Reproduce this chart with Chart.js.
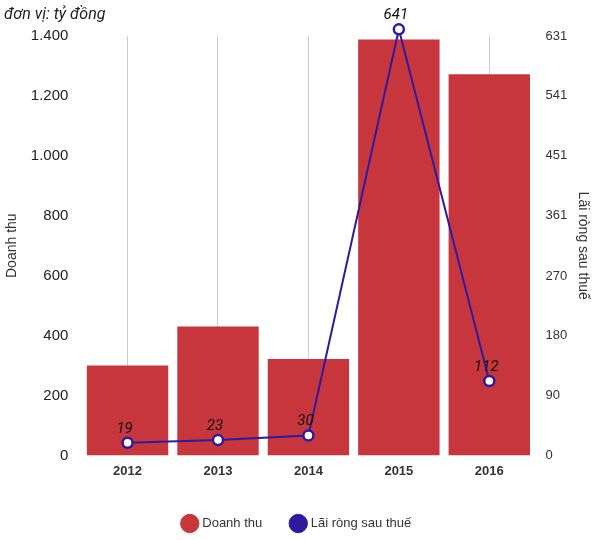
<!DOCTYPE html>
<html><head><meta charset="utf-8">
<script src="https://cdn.jsdelivr.net/npm/chart.js@4"></script>
<style>body{margin:0;background:#fff;font-family:Roboto,Arial,sans-serif}#w{position:relative;width:599px;height:540px}
#t{position:absolute;left:4px;top:4px;font-style:italic;font-size:16px;color:#222}</style></head>
<body><div id="w"><div id="t">đơn vị: tỷ đồng</div><canvas id="c" width="599" height="540"></canvas></div>
<script>
const categories=['2012','2013','2014','2015','2016'];
const revenue=[300,430,322,1388,1272];
const profit=[19,23,30,641,112];
const rightTicks=[0,90,180,270,361,451,541,631];
const leftTicks=[0,200,400,600,800,1000,1200,1400];
const fmt=v=>v>=1000?String(v).replace(/(\d)(\d{3})$/,'$1.$2'):String(v);
const labels={id:'lbl',afterDatasetsDraw(ch){const m=ch.getDatasetMeta(1),c=ch.ctx;c.save();c.font='italic 15px Roboto';c.fillStyle='#111';c.textAlign='center';
m.data.forEach((p,i)=>c.fillText(profit[i],p.x-3,p.y-14));c.restore();}};
new Chart(document.getElementById('c'),{data:{labels:categories,datasets:[
{type:'bar',label:'Doanh thu',data:revenue,backgroundColor:'#c8363d',yAxisID:'y',categoryPercentage:0.9,barPercentage:1,order:2},
{type:'line',label:'Lãi ròng sau thuế',data:profit,borderColor:'#2e1a9e',backgroundColor:'#2e1a9e',borderWidth:2,pointRadius:5,pointBackgroundColor:'#fff',pointBorderColor:'#2e1a9e',pointBorderWidth:2.5,yAxisID:'y1',clip:false,order:1}]},
options:{responsive:false,animation:false,layout:{padding:{top:36,right:4,left:0}},
plugins:{legend:{position:'bottom',labels:{usePointStyle:true,pointStyle:'circle',boxWidth:12,padding:30,color:'#333',font:{size:13},
generateLabels:ch=>ch.data.datasets.map((d,i)=>({text:d.label,fillStyle:i?'#2e1a9e':'#c8363d',strokeStyle:i?'#2e1a9e':'#c8363d',pointStyle:'circle',datasetIndex:i,fontColor:'#333'}))}},tooltip:{enabled:false}},
scales:{x:{grid:{display:true,offset:false,color:'#ccc',drawTicks:false},border:{display:false},ticks:{color:'#333',font:{size:13,weight:'bold'},padding:8}},
y:{position:'left',min:0,max:1400,afterBuildTicks:a=>{a.ticks=leftTicks.map(v=>({value:v}))},grid:{display:false},border:{display:false},
ticks:{color:'#222',font:{size:15},callback:v=>fmt(v),padding:6},title:{display:true,text:'Doanh thu',color:'#333',font:{size:14}}},
y1:{position:'right',min:0,max:631,afterBuildTicks:a=>{a.ticks=rightTicks.map(v=>({value:v}))},grid:{display:false},border:{display:false},
ticks:{color:'#333',font:{size:13}},title:{display:true,text:'Lãi ròng sau thuế',color:'#333',font:{size:14}}}}},plugins:[labels]});
</script></body></html>
